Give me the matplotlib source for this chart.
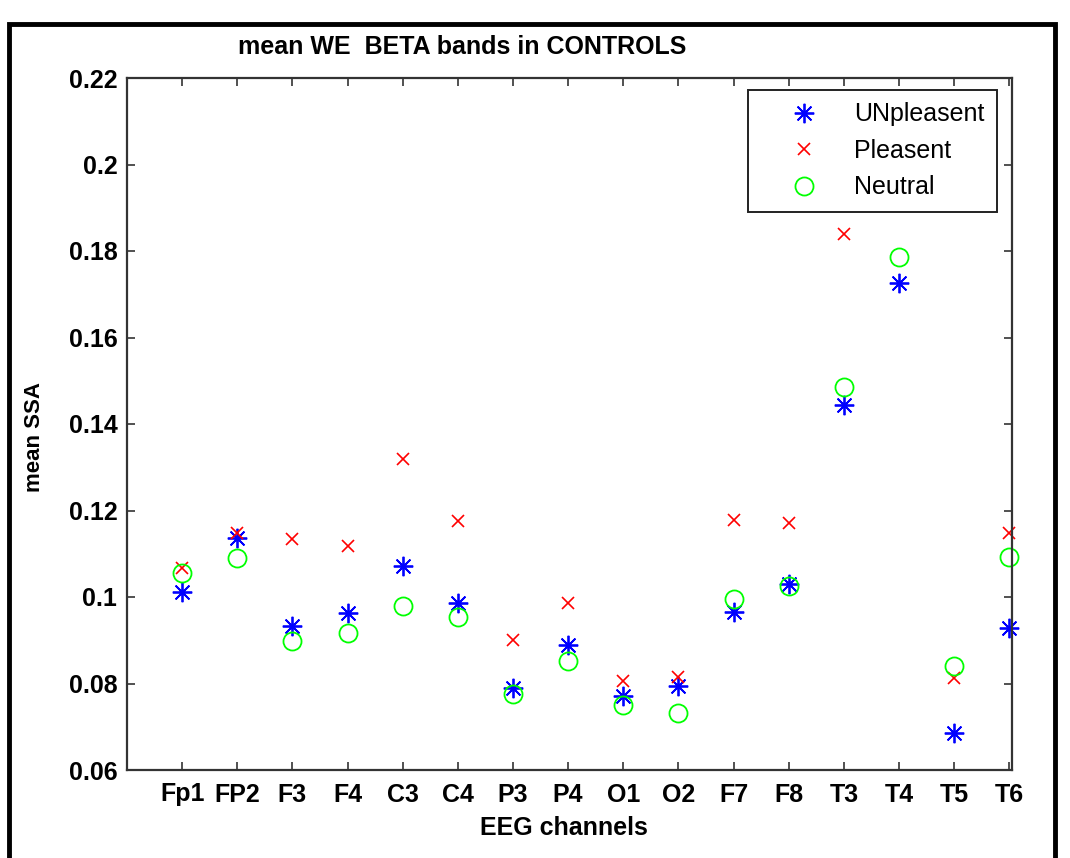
import matplotlib
matplotlib.use("Agg")
import matplotlib.pyplot as plt
from matplotlib.patches import Rectangle
import numpy as np

# data
channels = ["Fp1", "FP2", "F3", "F4", "C3", "C4", "P3", "P4",
            "O1", "O2", "F7", "F8", "T3", "T4", "T5", "T6"]
unpleasent = [0.1012, 0.1136, 0.0933, 0.0963, 0.1072, 0.0986, 0.0790, 0.0889,
              0.0771, 0.0794, 0.0965, 0.1030, 0.1444, 0.1726, 0.0686, 0.0928]
pleasent = [0.1067, 0.1148, 0.1134, 0.1118, 0.1319, 0.1176, 0.0901, 0.0986,
            0.0806, 0.0815, 0.1178, 0.1171, 0.1839, 0.2050, 0.0813, 0.1148]
neutral = [0.1056, 0.1090, 0.0898, 0.0917, 0.0979, 0.0954, 0.0776, 0.0852,
           0.0750, 0.0732, 0.0995, 0.1025, 0.1486, 0.1786, 0.0841, 0.1093]
yticks = [0.06, 0.08, 0.1, 0.12, 0.14, 0.16, 0.18, 0.2, 0.22]
ytick_labels = ["0.06", "0.08", "0.1", "0.12", "0.14", "0.16", "0.18", "0.2", "0.22"]

bold_font = ["Liberation Sans", "DejaVu Sans"]

fig = plt.figure(figsize=(10.7, 8.58), dpi=100)
ax = fig.add_axes([127 / 1070, 1 - 770 / 858, (1012 - 127) / 1070, (770 - 78) / 858])

x = np.arange(1, len(channels) + 1)
ax.plot(x, unpleasent, linestyle="none", marker=(8, 2, 0), markersize=14,
        markeredgewidth=1.3, color=(0, 0, 1), label="UNpleasent", clip_on=False)
ax.plot(x, pleasent, linestyle="none", marker="x", markersize=8,
        markeredgewidth=1.2, color=(1, 0, 0), label="Pleasent", clip_on=False)
ax.plot(x, neutral, linestyle="none", marker="o", markersize=13,
        markerfacecolor="none", markeredgewidth=1.3, color=(0, 1, 0),
        label="Neutral", clip_on=False)

ax.set_xlim(0, 16.05)
ax.set_ylim(0.06, 0.22)
ax.set_xticks(x)
ax.set_xticklabels(channels, fontsize=18, fontweight="bold", family=bold_font)
ax.set_yticks(yticks)
ax.set_yticklabels(ytick_labels, fontsize=18, fontweight="bold", family=bold_font)
ax.tick_params(direction="in", top=True, right=True, length=6, width=1.2,
               color="#333333")
ax.tick_params(axis="x", pad=9)
ax.tick_params(axis="y", pad=7)

for s in ax.spines.values():
    s.set_color("#333333")
    s.set_linewidth(1.6)

ax.set_xlabel("EEG channels", fontsize=18, fontweight="bold", family=bold_font)
ax.xaxis.set_label_coords((564 - 127) / 885, (770 - 828) / 692)
ax.xaxis.label.set_va("center")
ax.set_ylabel("mean SSA", fontsize=16, fontweight="bold", family=bold_font)
ax.yaxis.set_label_coords((34 - 127) / 885, (770 - 437) / 692)
ax.yaxis.label.set_va("center")
fig.text(238 / 1070, 1 - 47 / 858, "mean WE  BETA bands in CONTROLS",
         fontsize=18, fontweight="bold", family=bold_font, va="center")

leg = ax.legend(loc="upper right", bbox_to_anchor=(997 / 1070, 1 - 90 / 858),
                bbox_transform=fig.transFigure, fancybox=False, framealpha=1,
                edgecolor="#222222", borderpad=0.5, labelspacing=0.5,
                handlelength=3.5, handletextpad=0.25, borderaxespad=0,
                prop={"family": ["Liberation Sans", "DejaVu Sans"], "size": 18})
leg.get_frame().set_linewidth(1.4)
leg.set_zorder(10)

# black frame around the figure
fig.patches.append(Rectangle((9 / 1070, -0.05), (1055 - 9) / 1070, 1.05 - 24 / 858,
                             transform=fig.transFigure, fill=False,
                             edgecolor="black", linewidth=3.5))

fig.savefig("out.png", dpi=100)
